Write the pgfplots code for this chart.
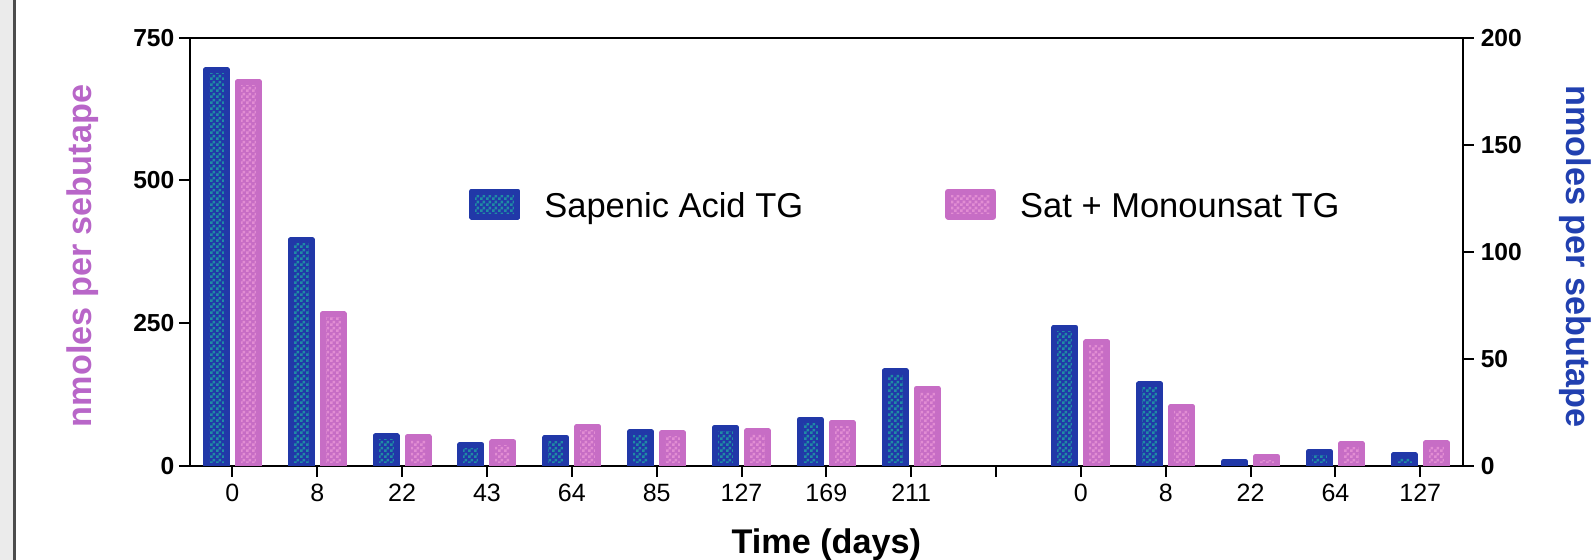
\documentclass[border=0pt]{standalone}
\usepackage{pgfplots}
\pgfplotsset{compat=1.18}
\usepackage{fontspec}
\setmainfont{Liberation Sans}
\usetikzlibrary{patterns}
\definecolor{bbord}{HTML}{2138A8}
\definecolor{bchk}{HTML}{1F8CA5}
\definecolor{pbord}{HTML}{C76DC5}
\definecolor{pchk}{HTML}{E28DD3}
\definecolor{plab}{HTML}{B866C8}
\definecolor{blab}{HTML}{2140B0}
\pgfdeclarepatternformonly{checkers}{\pgfpointorigin}{\pgfpoint{3pt}{3pt}}{\pgfpoint{3pt}{3pt}}{%
  \pgfpathrectangle{\pgfpointorigin}{\pgfpoint{1.5pt}{1.5pt}}%
  \pgfpathrectangle{\pgfpoint{1.5pt}{1.5pt}}{\pgfpoint{1.5pt}{1.5pt}}%
  \pgfusepath{fill}}
\tikzset{
  bluebar/.style={preaction={fill=bbord}, pattern=checkers, pattern color=bchk, draw=bbord, line width=3pt, line join=round},
  pinkbar/.style={preaction={fill=pbord}, pattern=checkers, pattern color=pchk, draw=pbord, line width=3pt, line join=round},
}
\pgfplotsset{
  base/.style={
    scale only axis, width=636.35pt, height=214pt,
    at={(95pt,-232.85pt)}, anchor=south west,
    xmin=-0.5, xmax=14.5, ymin=0,
    enlargelimits=false,
    ybar, bar width=10.5pt,
    tick align=outside, major tick length=5.5pt,
    tick style={line width=1pt, black},
    axis line style={line width=1pt},
    xtick={0,...,14},
    xticklabels={0,8,22,43,64,85,127,169,211,{},0,8,22,64,127},
    xticklabel style={font=\fontsize{12.5pt}{14pt}\selectfont},
    yticklabel style={font=\fontsize{12.3pt}{14pt}\selectfont\bfseries},
    label style={font=\fontsize{17.1pt}{20pt}\selectfont\bfseries},
  }
}
\begin{document}
\begin{tikzpicture}
\useasboundingbox (0,0) rectangle (795.5pt,-280pt);
\fill[gray!16] (0,0) rectangle (7pt,-280pt);
\draw[black!70, line width=1.25pt] (7.35pt,0) -- (7.35pt,-280pt);
\begin{axis}[base, ymax=750,
  ytick={0,250,500,750}, yticklabels={0,250,500,750},
  yticklabel style={xshift=1.2pt},
  xtick pos=bottom, ytick pos=left,
  ylabel={nmoles per sebutape},
  ylabel style={color=plab, at={(axis description cs:-0.0772,0.49)}, anchor=base},
  xlabel={Time (days)},
  xlabel style={at={(axis description cs:0.5,-0.2063)}, anchor=base},
]
\addplot[pinkbar, bar shift=8pt] coordinates {
 (0,672) (1,265) (2,50) (3,41) (4,68) (5,57) (6,60) (7,75) (8,135)
 (10,216) (11,103) (12,16) (13,38) (14,39)};
\end{axis}
\begin{axis}[base, ymax=200,
  ytick={0,50,100,150,200}, yticklabels={0,50,100,150,200},
  axis x line=none, axis y line*=right,
  ylabel={nmoles per sebutape},
  ylabel style={color=blab, rotate=180, at={(axis description cs:1.0817,0.4888)}, anchor=base},
  legend columns=2,
  legend style={at={(axis description cs:0.2192,0.6100)}, anchor=west, draw=none, fill=none,
    inner sep=0pt, font=\fontsize{17.25pt}{20pt}\selectfont, nodes={inner sep=0pt},
    /tikz/every odd column/.append style={column sep=12pt},
    /tikz/every even column/.append style={column sep=71pt}},
]
\addplot[bluebar, bar shift=-8pt,
  legend image code/.code={\draw[bluebar] (0pt,-4.9pt) rectangle (22.5pt,7.6pt);}] coordinates {
 (0,184.8) (1,105.3) (2,13.7) (3,9.7) (4,13.1) (5,15.6) (6,17.8) (7,21.5) (8,44.1)
 (10,64.5) (11,38.0) (12,1.9) (13,6.6) (14,5.0)};
\addlegendentry{Sapenic Acid TG}
\addlegendimage{legend image code/.code={\draw[pinkbar] (0pt,-4.9pt) rectangle (22.5pt,7.6pt);}}
\addlegendentry{Sat + Monounsat TG}
\end{axis}
\end{tikzpicture}
\end{document}
